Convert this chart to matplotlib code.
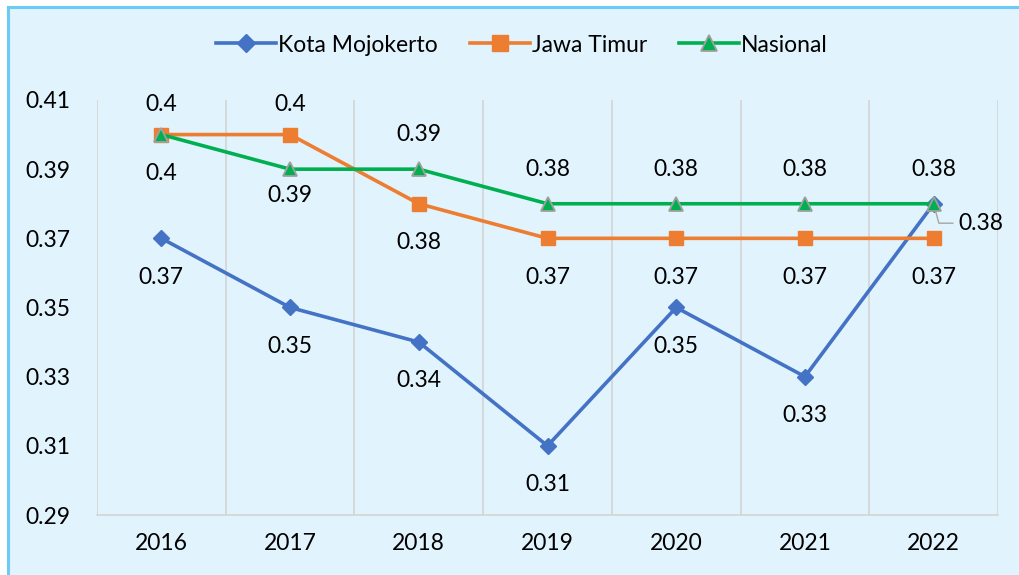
import matplotlib.pyplot as plt
from matplotlib.patches import Rectangle

years = ["2016", "2017", "2018", "2019", "2020", "2021", "2022"]
kota = [0.37, 0.35, 0.34, 0.31, 0.35, 0.33, 0.38]
jatim = [0.40, 0.40, 0.38, 0.37, 0.37, 0.37, 0.37]
nasional = [0.40, 0.39, 0.39, 0.38, 0.38, 0.38, 0.38]
yticks = [0.29, 0.31, 0.33, 0.35, 0.37, 0.39, 0.41]

plt.rcParams["font.family"] = ["Lato", "DejaVu Sans"]

fig = plt.figure(figsize=(10.19, 5.75), dpi=100)
bg = "#E1F3FD"
fig.patch.set_facecolor("white")
# panel background with thin border on left/top
fig.patches.append(Rectangle((8 / 1019, 0), 1, 1 - 7 / 575, transform=fig.transFigure,
                             facecolor=bg, edgecolor="none", zorder=-5))
fig.lines.append(plt.Line2D([7.5 / 1019, 7.5 / 1019], [0, 1 - 6.5 / 575],
                            transform=fig.transFigure, color="#6CCBF5", lw=2.2, zorder=-4))
fig.lines.append(plt.Line2D([7.5 / 1019, 1], [1 - 6.5 / 575, 1 - 6.5 / 575],
                            transform=fig.transFigure, color="#6CCBF5", lw=2.2, zorder=-4))

ax = fig.add_axes([97 / 1019, 1 - 515 / 575, (998 - 97) / 1019, 415 / 575])
ax.set_zorder(2)
ax.set_facecolor(bg)
x = list(range(len(years)))

blue, orange, green = "#4472C4", "#ED7D31", "#00B050"
ax.plot(x, kota, color=blue, lw=2.6, marker="D", ms=8, label="Kota Mojokerto", zorder=3)
ax.plot(x, jatim, color=orange, lw=2.6, marker="s", ms=10, label="Jawa Timur", zorder=3)
ax.plot(x, nasional, color=green, lw=2.6, marker="^", ms=10, mec="#A0A0A0", mew=1.3,
        label="Nasional", zorder=4)

ax.set_xlim(-0.5, len(years) - 0.5)
ax.set_ylim(0.29, 0.41)
ax.set_yticks(yticks)
ax.set_yticklabels([f"{v:.2f}" for v in yticks])
ax.set_xticks(x)
ax.set_xticklabels(years)
ax.tick_params(axis="both", length=0, labelsize=16.5, colors="black")
ax.tick_params(axis="y", pad=19)
ax.tick_params(axis="x", pad=13)

for b in [i - 0.5 for i in range(len(years) + 1)]:
    ax.axvline(b, color="#D4D4D4", lw=1.2, zorder=1)
for s in ["top", "right", "left"]:
    ax.spines[s].set_visible(False)
ax.spines["bottom"].set_color("#D4D4D4")
ax.spines["bottom"].set_linewidth(1.2)

fs = 16.5
def fmt(v):
    return f"{v:g}"

for i, v in enumerate(kota):
    if i == len(kota) - 1:
        ax.annotate(fmt(v), (i, v), xytext=(18, -14), textcoords="offset points",
                    fontsize=fs, ha="left", va="center",
                    arrowprops=dict(arrowstyle="-", color="#A5A5A5", lw=1,
                                    connectionstyle="angle,angleA=0,angleB=-75,rad=0",
                                    shrinkA=2, shrinkB=4))
    else:
        ax.annotate(fmt(v), (i, v), xytext=(0, -28), textcoords="offset points",
                    fontsize=fs, ha="center", va="center")

for i, v in enumerate(jatim):
    dy = 22 if i < 2 else -28
    ax.annotate(fmt(v), (i, v), xytext=(0, dy), textcoords="offset points",
                fontsize=fs, ha="center", va="center")

for i, v in enumerate(nasional):
    dy = -28 if i == 0 else (-19 if i == 1 else 25)
    ax.annotate(fmt(v), (i, v), xytext=(0, dy), textcoords="offset points",
                fontsize=fs, ha="center", va="center")

fig.legend(loc="center", bbox_to_anchor=(522 / 1019, 1 - 45 / 575), ncol=3, frameon=False,
           fontsize=16.5, handlelength=2.6, columnspacing=1.4, handletextpad=0.1,
           markerscale=1.2)

fig.savefig("out.png", dpi=100, facecolor=fig.get_facecolor())
